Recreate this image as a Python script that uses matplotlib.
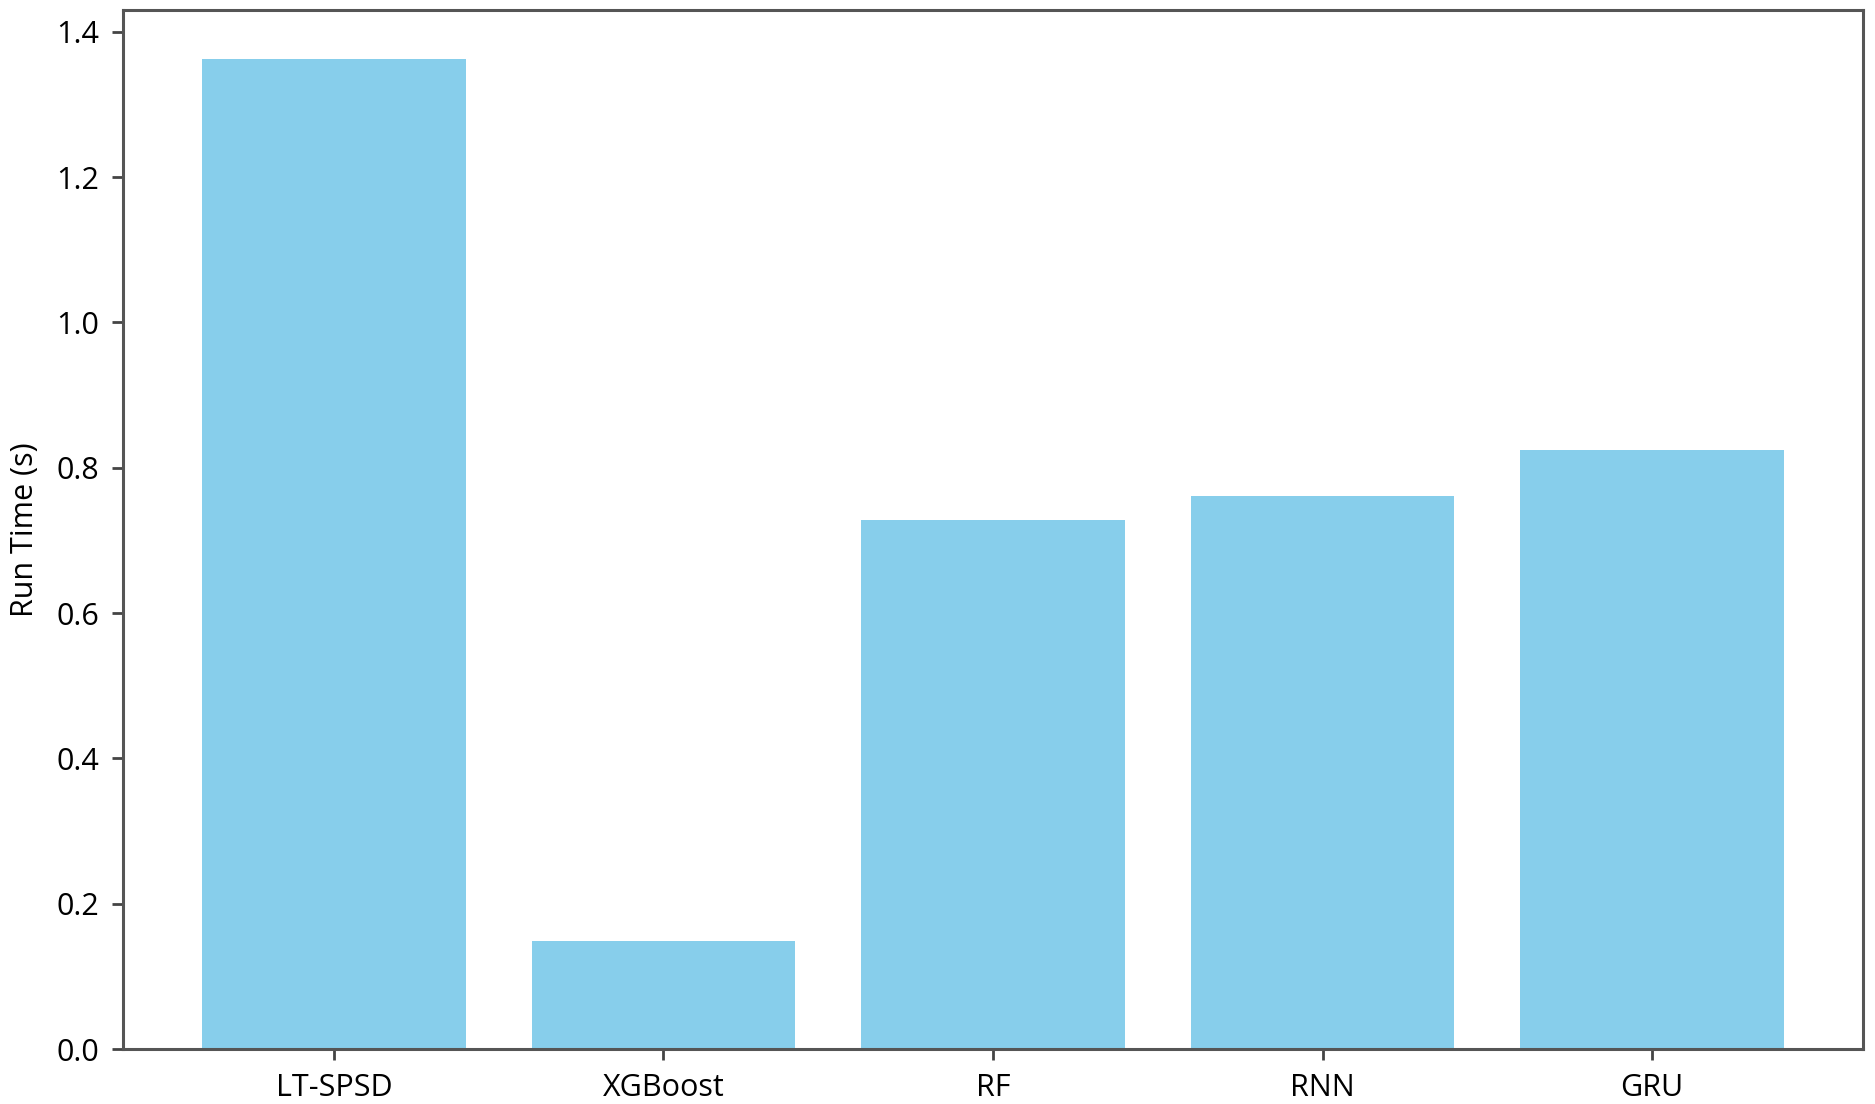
import matplotlib
matplotlib.use('Agg')
import matplotlib.pyplot as plt

models = ['LT-SPSD', 'XGBoost', 'RF', 'RNN', 'GRU']
run_times = [1.362, 0.148, 0.728, 0.761, 0.825]

plt.rcParams['font.family'] = ['Open Sans', 'DejaVu Sans']

fig = plt.figure(figsize=(18.75, 11.04), dpi=100)
ax = fig.add_axes([0.0656, 0.0498, 0.928, 0.9412])

ax.bar(models, run_times, color='skyblue', width=0.8)
ax.set_ylabel('Run Time (s)', fontsize=22, labelpad=12)
ax.set_yticks([0.0, 0.2, 0.4, 0.6, 0.8, 1.0, 1.2, 1.4])
ax.tick_params(axis='both', labelsize=22, length=8, width=2, color='#444444', pad=9)

for s in ax.spines.values():
    s.set_linewidth(2.2)
    s.set_color('#555555')

fig.savefig('out.png', dpi=100)
plt.close()
